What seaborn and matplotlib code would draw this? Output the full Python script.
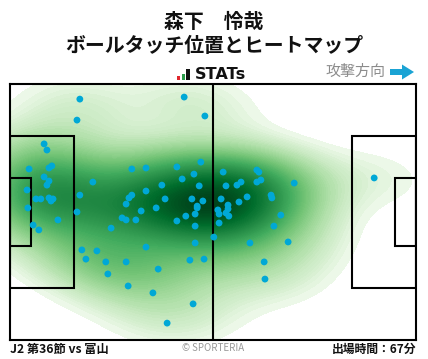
import numpy as np
import pandas as pd
import matplotlib
matplotlib.use("Agg")
import matplotlib.pyplot as plt
import seaborn as sns
from matplotlib.patches import Rectangle, Polygon
from matplotlib.colors import ListedColormap

# ---- data (pitch coordinates, 0-100 both axes, y measured from top) ----
touch_x = [17.2, 42.9, 48.0, 16.5, 8.4, 9.1, 4.7, 9.6, 10.3, 8.4, 9.6, 9.1, 4.2, 6.4, 7.6, 9.6,
           10.6, 10.1, 4.4, 17.2, 20.4, 16.5, 11.8, 5.7, 7.1, 30.0, 33.5, 41.1, 47.0, 45.3,
           42.4, 46.6, 37.4, 33.5, 30.0, 29.3, 28.6, 38.2, 44.8, 47.5, 46.1, 45.6, 43.3, 41.1,
           36.0, 32.3, 31.0, 28.6, 27.6, 24.9, 45.6, 17.7, 18.7, 21.4, 23.6, 24.1, 28.6, 29.1,
           33.5, 35.2, 36.5, 38.7, 44.3, 47.8, 45.1, 45.6, 50.2, 51.5, 52.5, 53.2, 55.9, 56.9,
           56.4, 58.4, 60.8, 61.3, 60.8, 61.8, 64.3, 64.5, 66.7, 65.0, 52.0, 51.2, 51.5, 53.7,
           53.7, 53.2, 53.9, 70.0, 89.7, 59.1, 68.5, 62.6, 62.8, 46.1]
touch_y = [5.9, 5.1, 12.5, 14.1, 23.4, 25.8, 33.2, 32.8, 32.0, 36.3, 37.9, 39.5, 41.4, 44.9, 44.9, 44.5,
           44.9, 45.7, 48.4, 43.4, 38.3, 50.0, 53.1, 55.1, 57.0, 33.2, 32.8, 32.4, 30.5, 35.2,
           37.1, 39.8, 39.5, 41.8, 43.4, 44.5, 46.9, 44.9, 44.9, 45.7, 47.7, 50.8, 51.6, 53.5,
           48.4, 49.6, 53.1, 53.1, 52.3, 56.3, 55.5, 64.8, 68.4, 65.2, 69.5, 74.2, 69.5, 78.9,
           63.7, 81.6, 72.3, 93.4, 68.8, 68.4, 85.9, 62.1, 59.8, 54.3, 34.4, 39.8, 39.5, 38.3,
           46.1, 44.1, 33.6, 34.4, 38.3, 37.5, 43.4, 44.5, 51.2, 55.5, 44.9, 49.2, 50.8, 47.3,
           48.8, 50.4, 51.6, 38.7, 36.7, 62.1, 61.7, 69.5, 76.2, 48.4]

player = "森下\u3000怜哉"
subtitle = "ボールタッチ位置とヒートマップ"
match_label = "J2 第36節 vs 富山"
minutes_label = "出場時間：67分"
direction_label = "攻撃方向"
credit_label = "© SPORTERIA"

df = pd.DataFrame({"x": touch_x, "y": touch_y})

sns.set_theme(style="white")
plt.rcParams["font.family"] = ["Noto Sans CJK JP", "DejaVu Sans"]

W, H = 428, 359
fig = plt.figure(figsize=(W / 100, H / 100), dpi=100)
fig.patch.set_facecolor("white")

# pitch axes: pixels x 10..416, y 84..340
ax = fig.add_axes([10 / W, (H - 340) / H, 406 / W, 256 / H])
ax.set_xlim(0, 100)
ax.set_ylim(100, 0)

base = plt.get_cmap("Greens")
heat_cmap = ListedColormap(base(0.04 + 0.96 * np.linspace(0, 1, 256) ** 0.6))

sns.kdeplot(data=df, x="x", y="y", fill=True, cmap=heat_cmap, levels=100, thresh=0.011,
            bw_adjust=1.15, clip=((0, 100), (0, 100)), gridsize=160, ax=ax, zorder=1)
sns.scatterplot(data=df, x="x", y="y", color="#00a8d6", s=24, edgecolor="none",
                linewidth=0, ax=ax, zorder=5)

ax.set_xlim(0, 100)
ax.set_ylim(100, 0)
ax.set_xlabel("")
ax.set_ylabel("")
ax.set_xticks([])
ax.set_yticks([])

lw = 1.5
pb_x = 16.5 / 105 * 100
pb_y0 = (68 - 40.32) / 2 / 68 * 100
gb_x = 5.5 / 105 * 100
gb_y0 = (68 - 18.32) / 2 / 68 * 100
ax.plot([50, 50], [0, 100], color="black", lw=lw, zorder=4)
for (x0, w) in [(0, pb_x), (100 - pb_x, pb_x)]:
    ax.add_patch(Rectangle((x0, pb_y0), w, 100 - 2 * pb_y0, fill=False, ec="black", lw=lw, zorder=4))
for (x0, w) in [(0, gb_x), (100 - gb_x, gb_x)]:
    ax.add_patch(Rectangle((x0, gb_y0), w, 100 - 2 * gb_y0, fill=False, ec="black", lw=lw, zorder=4))
for s in ax.spines.values():
    s.set_visible(True)
    s.set_color("black")
    s.set_linewidth(lw)
    s.set_zorder(6)

# overlay axes in pixel units for header/footer
ov = fig.add_axes([0, 0, 1, 1], zorder=-1)
ov.set_xlim(0, W)
ov.set_ylim(H, 0)
ov.axis("off")

ov.text(214, 21, player, ha="center", va="center", fontsize=14.3, fontweight="bold", color="#111111")
ov.text(214, 46, subtitle, ha="center", va="center", fontsize=14.3, fontweight="bold", color="#111111")

# STATs logo
ov.add_patch(Rectangle((177, 75.5), 3.2, 4, color="#e0262d", lw=0))
ov.add_patch(Rectangle((182, 73.5), 3.2, 6, color="#2a9d4a", lw=0))
ov.add_patch(Rectangle((186.5, 69), 3.2, 10.5, color="#111111", lw=0))
ov.text(195, 74.5, "STATs", ha="left", va="center", fontsize=11.6, fontweight="bold",
        family="DejaVu Sans", color="#111111")

ov.text(385, 72, direction_label, ha="right", va="center", fontsize=10.8, color="#8c8c8c")
ov.add_patch(Polygon([(390, 69), (402, 69), (402, 64.5), (414, 72), (402, 79.5), (402, 75), (390, 75)],
                     closed=True, color="#1aa3d4", lw=0))

ov.text(10, 349, match_label, ha="left", va="center", fontsize=8.8, fontweight="bold", color="#111111")
ov.text(213, 348, credit_label, ha="center", va="center", fontsize=7, color="#999999")
ov.text(416, 349, minutes_label, ha="right", va="center", fontsize=8.5, fontweight="bold", color="#111111")

fig.savefig("out.png", dpi=100, facecolor="white")
